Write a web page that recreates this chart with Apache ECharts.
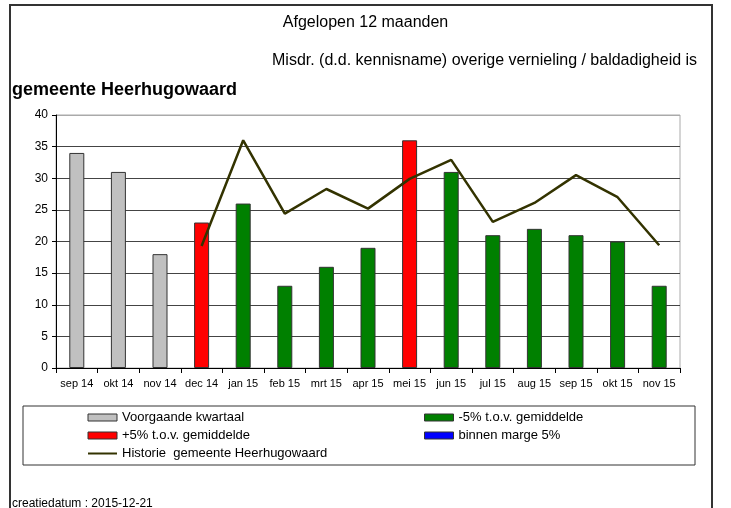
<!DOCTYPE html>
<html>
<head>
<meta charset="utf-8">
<script src="https://cdn.jsdelivr.net/npm/echarts@6/dist/echarts.min.js"></script>
<style>
  html, body { margin: 0; padding: 0; background: #fff; }
  #chart { width: 731px; height: 508px; }
</style>
</head>
<body>
<div id="chart"></div>
<script>
var months = ['sep 14', 'okt 14', 'nov 14', 'dec 14', 'jan 15', 'feb 15', 'mrt 15', 'apr 15', 'mei 15', 'jun 15', 'jul 15', 'aug 15', 'sep 15', 'okt 15', 'nov 15'];
var counts = [34, 31, 18, 23, 26, 13, 16, 19, 36, 31, 21, 22, 21, 20, 13];
// 'prev' = voorgaande kwartaal, 'up' = +5%, 'down' = -5%, 'mid' = binnen marge
var barGroup = ['prev', 'prev', 'prev', 'up', 'down', 'down', 'down', 'down', 'up', 'down', 'down', 'down', 'down', 'down', 'down'];
var historyValues = [null, null, null, 19.3, 36, 24.4, 28.3, 25.2, 29.9, 32.9, 23.1, 26.1, 30.5, 27.0, 19.4];
var yTicks = [0, 5, 10, 15, 20, 25, 30, 35, 40];

var groups = [
    {key: 'prev', name: 'Voorgaande kwartaal', color: '#c0c0c0'},
    {key: 'up', name: '+5% t.o.v. gemiddelde', color: '#ff0000'},
    {key: 'down', name: '-5% t.o.v. gemiddelde', color: '#008000'},
    {key: 'mid', name: 'binnen marge 5%', color: '#0000ff'}
];
var lineName = 'Historie  gemeente Heerhugowaard';

function pick(key) {
    var out = [];
    for (var i = 0; i < counts.length; i++) {
        out.push(barGroup[i] === key ? counts[i] : null);
    }
    return out;
}

var series = [];
for (var g = 0; g < groups.length; g++) {
    series.push({
        name: groups[g].name,
        type: 'bar',
        stack: 'total',
        barWidth: 15,
        itemStyle: {color: groups[g].color, borderColor: '#333', borderWidth: 1},
        data: pick(groups[g].key)
    });
}
series.push({
    name: lineName,
    type: 'line',
    symbol: 'none',
    z: 5,
    lineStyle: {color: '#333300', width: 2.5},
    itemStyle: {color: '#333300'},
    data: historyValues
});

function barItem(name) {
    return {name: name, icon: 'rect', itemStyle: {borderWidth: 1, borderColor: '#333'}};
}
var lineItem = {name: lineName, itemStyle: {opacity: 0}};

var font = 'Liberation Sans, Arial, sans-serif';
var legendText = {color: '#000', fontSize: 13, fontFamily: font};
var gridColors = ['#444', '#444', '#444', '#444', '#444', '#444', '#444', '#444', '#aaa'];

var myChart = echarts.init(document.getElementById('chart'));
var option = {
    animation: false,
    backgroundColor: '#fff',
    textStyle: {fontFamily: font},
    title: [
        {text: 'Afgelopen 12 maanden', left: 'center', top: 10,
         textStyle: {fontSize: 16, fontWeight: 'normal', color: '#000', fontFamily: font}},
        {text: 'Misdr. (d.d. kennisname) overige vernieling / baldadigheid is', left: 267, top: 48,
         textStyle: {fontSize: 16, fontWeight: 'normal', color: '#000', fontFamily: font}},
        {text: 'gemeente Heerhugowaard', left: 7, top: 76,
         textStyle: {fontSize: 18, fontWeight: 'bold', color: '#000', fontFamily: font}},
        {text: 'creatiedatum : 2015-12-21', left: 7, top: 493,
         textStyle: {fontSize: 12, fontWeight: 'normal', color: '#000', fontFamily: font}}
    ],
    legend: [
        {data: [barItem(groups[0].name), barItem(groups[1].name), lineItem], orient: 'vertical', left: 82, top: 406,
         itemWidth: 29, itemHeight: 7, itemGap: 5, textStyle: legendText, selectedMode: false},
        {data: [barItem(groups[2].name), barItem(groups[3].name)], orient: 'vertical', left: 419, top: 406,
         itemWidth: 29, itemHeight: 7, itemGap: 5, textStyle: legendText, selectedMode: false}
    ],
    grid: {left: 56, right: 51, top: 115, bottom: 140, show: true, borderColor: '#aaa', borderWidth: 1},
    xAxis: {
        type: 'category',
        data: months,
        axisLine: {lineStyle: {color: '#000', width: 1}},
        axisTick: {show: true, length: 5, lineStyle: {color: '#000'}},
        axisLabel: {color: '#000', fontSize: 11, margin: 10, interval: 0}
    },
    yAxis: {
        type: 'value',
        min: yTicks[0],
        max: yTicks[yTicks.length - 1],
        interval: yTicks[1] - yTicks[0],
        axisLine: {show: true, lineStyle: {color: '#000', width: 1}},
        axisTick: {show: true, length: 4, lineStyle: {color: '#000'}},
        axisLabel: {color: '#000', fontSize: 12, margin: 8},
        splitLine: {lineStyle: {color: gridColors, width: 1}}
    },
    graphic: [
        {type: 'rect', shape: {x: 23, y: 406, width: 672, height: 59},
         style: {fill: null, stroke: '#333', lineWidth: 1}},
        {type: 'rect', z: 100, shape: {x: 10, y: 5, width: 702, height: 520},
         style: {fill: null, stroke: '#333', lineWidth: 2}}
    ],
    series: series
};

myChart.setOption(option);
</script>
</body>
</html>
